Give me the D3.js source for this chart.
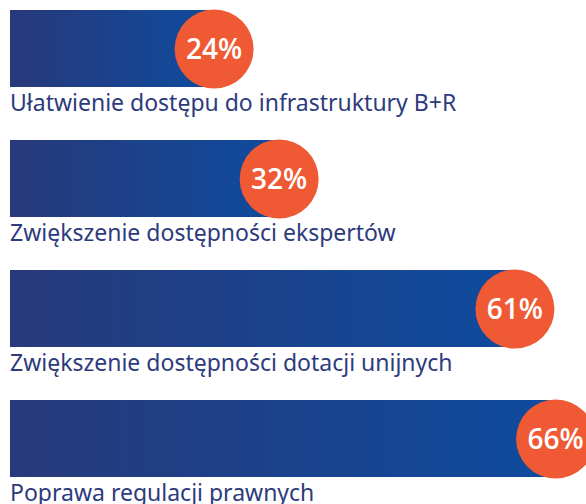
<!DOCTYPE html>
<html>
<head>
<meta charset="utf-8">
<script src="https://cdn.jsdelivr.net/npm/d3@7"></script>
<style>
    body { margin: 0; background: #fff; }
    svg { display: block; }
</style>
</head>
<body>
<div id="chart"></div>
<script>
var labels = [
    "Ułatwienie dostępu do infrastruktury B+R",
    "Zwiększenie dostępności ekspertów",
    "Zwiększenie dostępności dotacji unijnych",
    "Poprawa regulacji prawnych"
];
var values = [24, 32, 61, 66];

var width = 586,
    height = 504;

var svg = d3.select("#chart")
    .append("svg")
    .attr("width", width)
    .attr("height", height);

// value -> circle centre, bars start at the left edge
var x = d3.scaleLinear().domain([0, 100]).range([19, 832]);
var y = d3.scaleBand().domain(d3.range(labels.length)).range([10, 530]).paddingInner(0);

var barH = 77,
    r = 39.5,
    barLeft = 10;

var grad = svg.append("defs").append("linearGradient")
    .attr("id", "bar-gradient")
    .attr("x1", 0).attr("y1", 0)
    .attr("x2", 1).attr("y2", 0);
grad.append("stop").attr("offset", "0%").attr("stop-color", "#27397a");
grad.append("stop").attr("offset", "100%").attr("stop-color", "#0f4b9e");

var row = svg.selectAll(".row")
    .data(values)
    .enter().append("g")
    .attr("class", "row")
    .attr("transform", function (d, i) {
        return "translate(0," + y(i) + ")";
    });

row.append("rect")
    .attr("x", barLeft)
    .attr("y", 0)
    .attr("width", function (d) {
        return x(d) - barLeft;
    })
    .attr("height", barH)
    .style("fill", "url(#bar-gradient)");

row.append("circle")
    .attr("cx", function (d) {
        return x(d);
    })
    .attr("cy", 39)
    .attr("r", r)
    .style("fill", "#ef5a34");

row.append("text")
    .attr("x", function (d) {
        return x(d);
    })
    .attr("y", 39)
    .attr("dy", "0.36em")
    .attr("text-anchor", "middle")
    .style("font-family", "'Open Sans', sans-serif")
    .style("font-weight", 600)
    .style("font-size", "28px")
    .style("fill", "#fff")
    .text(function (d) {
        return d + "%";
    });

// last label sits at the bottom edge, as in the original
row.append("text")
    .attr("x", barLeft)
    .attr("y", barH + 24)
    .style("font-family", "'Noto Sans', sans-serif")
    .style("font-size", "23px")
    .style("fill", "#2d3b7c")
    .text(function (d, i) {
        return labels[i];
    });
</script>
</body>
</html>
